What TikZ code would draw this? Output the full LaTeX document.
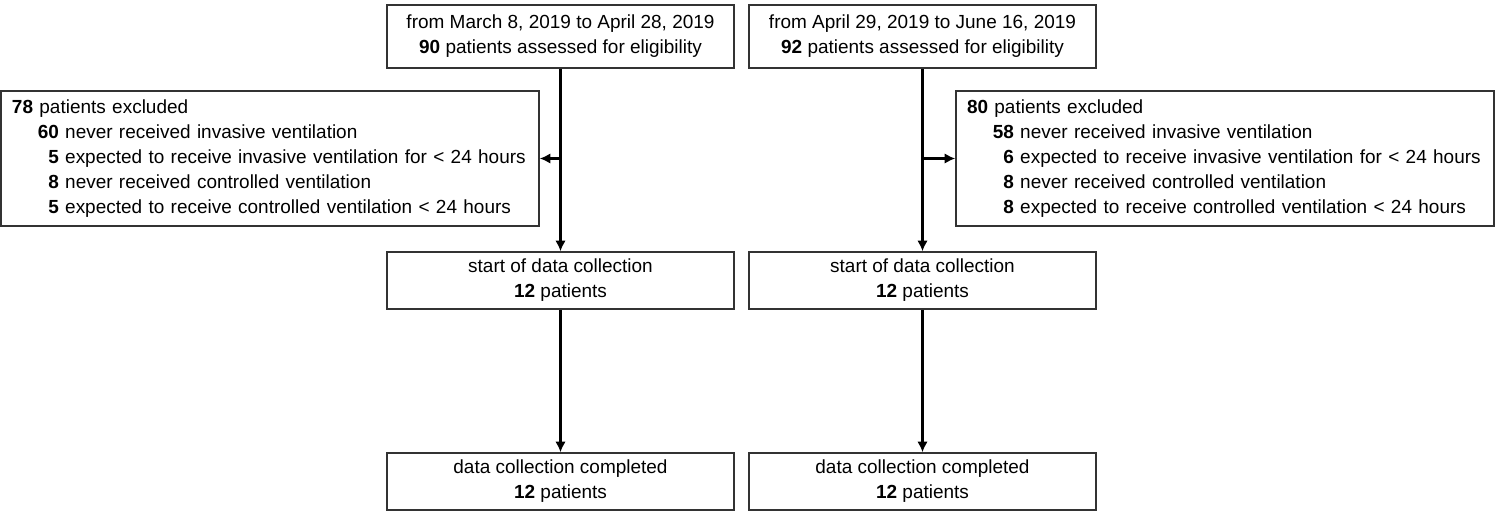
\documentclass[tikz,border=0pt]{standalone}
\usepackage{fontspec}
\setmainfont{Liberation Sans}
\usetikzlibrary{arrows.meta}
\newcommand{\exclrow}[2]{\hspace*{1.36em}\makebox[1.11em][r]{\textbf{#1}} #2}
\begin{document}
\begin{tikzpicture}[
    font=\fontsize{10.8}{14.2}\selectfont,
    box/.style={draw=black!80, line width=0.9pt, align=center, minimum width=6.95cm, minimum height=1.14cm, inner sep=0pt},
    exclbox/.style={draw=black!80, line width=0.9pt, align=left, text width=10.32cm, inner xsep=0.22cm, minimum height=2.7cm},
    flow/.style={line width=1.5pt, -{Latex[length=6pt,width=6pt]}}]
            \useasboundingbox (0,0) rectangle (29.9,-10.22);

            % screening periods
            \node[box, minimum height=1.26cm] (period1) at (11.21,-0.73) {from March 8, 2019 to April 28, 2019\\\textbf{90} patients assessed for eligibility};
            \node[box, minimum height=1.26cm] (period2) at (18.45,-0.73) {from April 29, 2019 to June 16, 2019\\\textbf{92} patients assessed for eligibility};

            % exclusions
            \node[exclbox] (excl1) at (5.40,-3.17) {\textbf{78} patients excluded\\
                \exclrow{60}{never received invasive ventilation}\\
                \exclrow{5}{expected to receive invasive ventilation for < 24 hours}\\
                \exclrow{8}{never received controlled ventilation}\\
                \exclrow{5}{expected to receive controlled ventilation < 24 hours}};
            \node[exclbox] (excl2) at (24.50,-3.17) {\textbf{80} patients excluded\\
                \exclrow{58}{never received invasive ventilation}\\
                \exclrow{6}{expected to receive invasive ventilation for < 24 hours}\\
                \exclrow{8}{never received controlled ventilation}\\
                \exclrow{8}{expected to receive controlled ventilation < 24 hours}};

            % data collection
            \node[box] (start1) at (11.21,-5.61) {start of data collection\\\textbf{12} patients};
            \node[box] (start2) at (18.45,-5.61) {start of data collection\\\textbf{12} patients};
            \node[box] (done1) at (11.21,-9.63) {data collection completed\\\textbf{12} patients};
            \node[box] (done2) at (18.45,-9.63) {data collection completed\\\textbf{12} patients};

            \coordinate (split1) at (period1.south |- excl1.east);
            \coordinate (split2) at (period2.south |- excl2.west);

            \draw[flow] (period1) -- (start1);
            \draw[flow] (period2) -- (start2);
            \draw[flow] (split1) -- (excl1);
            \draw[flow] (split2) -- (excl2);
            \draw[flow] (start1) -- (done1);
            \draw[flow] (start2) -- (done2);
        \end{tikzpicture}
\end{document}
